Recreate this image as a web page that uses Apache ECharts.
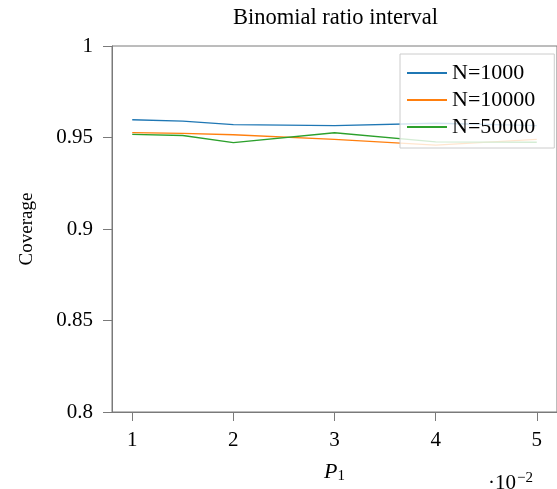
<!DOCTYPE html>
<html>
<head>
<meta charset="utf-8">
<script src="https://cdn.jsdelivr.net/npm/echarts@6/dist/echarts.min.js"></script>
<style>
html,body{margin:0;padding:0;background:#fff;}
#chart{width:557px;height:489px;}
</style>
</head>
<body>
<div id="chart"></div>
<script>
// P1 values in units of 1e-2
const pValues = [1, 1.5, 2, 3, 4, 5];
const coverageN1000 = [0.9597, 0.9589, 0.9570, 0.9565, 0.9578, 0.9565];
const coverageN10000 = [0.9527, 0.9522, 0.9515, 0.9490, 0.9458, 0.9490];
const coverageN50000 = [0.9517, 0.9511, 0.9472, 0.9526, 0.9476, 0.9474];
const seriesNames = ['N=1000', 'N=10000', 'N=50000'];
const xTicks = [1, 2, 3, 4, 5];
const yTicks = [0.8, 0.85, 0.9, 0.95, 1];

const FONT = '"Liberation Serif", "Times New Roman", serif';
const AXIS = '#7a7a7a';
const colors = ['#1f77b4', '#ff7f0e', '#2ca02c'];

function pairs(ys) { return pValues.map((x, i) => [x, ys[i]]); }

const chart = echarts.init(document.getElementById('chart'), null, {renderer: 'canvas'});
chart.setOption({
  animation: false,
  backgroundColor: '#fff',
  grid: {left: 112, top: 46, right: -3, bottom: 71, show: true, borderColor: AXIS, borderWidth: 1, containLabel: false},
  xAxis: {
    type: 'value', min: 0.8, max: 5.2,
    name: '{i|P}{s|1}', nameLocation: 'middle', nameGap: 48,
    nameTextStyle: {rich: {i: {fontFamily: FONT, fontStyle: 'italic', fontSize: 22, color: '#000'}, s: {fontFamily: FONT, fontSize: 15, color: '#000', verticalAlign: 'bottom', padding: [9, 0, 0, 0]}}},
    axisLine: {show: true, onZero: false, lineStyle: {color: AXIS, width: 1}},
    axisTick: {show: true, inside: false, length: 9, customValues: xTicks, lineStyle: {color: AXIS}},
    axisLabel: {customValues: xTicks, margin: 18, fontFamily: FONT, fontSize: 21, color: '#000'},
    splitLine: {show: false}
  },
  yAxis: {
    type: 'value', min: 0.8, max: 1,
    name: 'Coverage', nameLocation: 'middle', nameGap: 75, nameRotate: 90,
    nameTextStyle: {fontFamily: FONT, fontSize: 19, color: '#000'},
    axisLine: {show: true, onZero: false, lineStyle: {color: AXIS, width: 1}},
    axisTick: {show: true, inside: false, length: 9, customValues: yTicks, lineStyle: {color: AXIS}},
    axisLabel: {customValues: yTicks, margin: 19, fontFamily: FONT, fontSize: 21, color: '#000',
      formatter: v => String(+v.toFixed(2))},
    splitLine: {show: false}
  },
  legend: {
    orient: 'vertical', left: 400, top: 54,
    itemWidth: 40, itemHeight: 14, itemGap: 5,
    padding: [8, 19, 10, 6],
    itemStyle: {opacity: 0},
    backgroundColor: 'rgba(255,255,255,0.8)', borderColor: '#cccccc', borderWidth: 1,
    textStyle: {fontFamily: FONT, fontSize: 22, color: '#000'},
    data: seriesNames
  },
  graphic: [
    {type: 'text', left: 233, top: 7, style: {text: 'Binomial ratio interval', font: '22.5px ' + FONT, fill: '#000'}},
    {type: 'text', left: 488, top: 471, style: {text: '{d|·10}{e|−2}', rich: {d: {fontFamily: FONT, fontSize: 21, color: '#000'}, e: {fontFamily: FONT, fontSize: 15, color: '#000', verticalAlign: 'top', padding: [0, 0, 10, 1]}}}}
  ],
  series: [
    {name: seriesNames[0], type: 'line', data: pairs(coverageN1000), symbol: 'none', lineStyle: {width: 1.3, color: colors[0]}, itemStyle: {color: colors[0]}, z: 2},
    {name: seriesNames[1], type: 'line', data: pairs(coverageN10000), symbol: 'none', lineStyle: {width: 1.3, color: colors[1]}, itemStyle: {color: colors[1]}, z: 2},
    {name: seriesNames[2], type: 'line', data: pairs(coverageN50000), symbol: 'none', lineStyle: {width: 1.3, color: colors[2]}, itemStyle: {color: colors[2]}, z: 2}
  ]
});
</script>
</body>
</html>
